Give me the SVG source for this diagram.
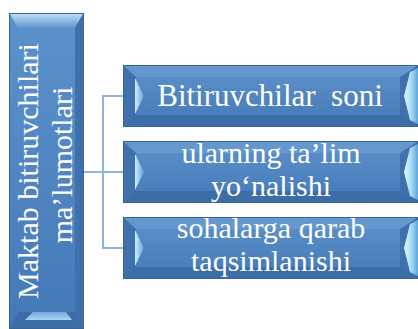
<svg xmlns="http://www.w3.org/2000/svg" width="418" height="329" viewBox="0 0 418 329">
<defs>
<linearGradient id="body" x1="0" y1="0" x2="0" y2="1">
<stop offset="0" stop-color="#5C92CB"/>
<stop offset="1" stop-color="#4479B8"/>
</linearGradient>
<linearGradient id="tri" x1="0" y1="0" x2="1" y2="0">
<stop offset="0" stop-color="#CFF0FC"/>
<stop offset="1" stop-color="#5E9FD8"/>
</linearGradient>
<linearGradient id="rlight" x1="0" y1="0" x2="1" y2="0">
<stop offset="0" stop-color="#E6F8FF"/>
<stop offset="0.5" stop-color="#A6DDF6"/>
<stop offset="1" stop-color="#5FA5DC"/>
</linearGradient>
<linearGradient id="topl" x1="0" y1="0" x2="0" y2="1">
<stop offset="0" stop-color="#B9DDF5"/>
<stop offset="1" stop-color="#5F95CD"/>
</linearGradient>
<linearGradient id="botl" x1="0" y1="0" x2="0" y2="1">
<stop offset="0" stop-color="#6FA9DE"/>
<stop offset="1" stop-color="#A8D4F3"/>
</linearGradient>
</defs>
<style>
.body{fill:url(#body);stroke:#3A6696;stroke-width:1}
.top{fill:#6598CE}
.bot{fill:#3C6DA8}
.side{fill:#3F71AC}
.tri{fill:url(#tri)}
.rl{fill:url(#rlight)}
.conn{fill:none;stroke:#8DB4E2;stroke-width:2}
.t{font-family:"Liberation Serif","Times New Roman",serif;fill:#FFFFFF;text-anchor:middle}
</style>
<g id="connectors">
<path class="conn" d="M84 172 H103"/>
<path class="conn" d="M123 96 H103 V248 H123"/>
<path class="conn" d="M103 172 H123"/>
</g>
<g id="root">
<rect class="body" x="9.5" y="13.5" width="74" height="315"/>
<polygon fill="url(#topl)" points="10,14 83,14 75,28 18,28"/>
<polygon class="side" points="83,14 75,28 75,312 83,328"/>
<polygon class="bot" points="10,328 83,328 75,312 18,312"/>
<polygon fill="url(#botl)" points="25,320 72,320 66,312 33,312"/>
<text class="t" font-size="30" transform="rotate(-90)"><tspan x="-171" y="38">Maktab bitiruvchilari</tspan><tspan x="-165" y="72">ma’lumotlari</tspan></text>
</g>
<g id="n1">
<rect class="body" x="123.5" y="65.5" width="294" height="61"/>
<polygon class="top" points="124,66 417,66 403,77 136,77"/>
<polygon class="bot" points="124,126 417,126 403,115 136,115"/>
<polygon class="side" points="124,66 136,77 136,115 124,126"/>
<polygon class="tri" points="135,78 144,96 135,114"/>
<polygon class="side" points="417,66 400,77 400,115 417,126"/>
<polygon class="rl" points="418,68 410,72 404,96 410,120 418,124"/>
<text class="t" font-size="31" x="270" y="106" xml:space="preserve">Bitiruvchilar  soni</text>
</g>
<g id="n2">
<rect class="body" x="123.5" y="141.5" width="294" height="61"/>
<polygon class="top" points="124,142 417,142 403,153 136,153"/>
<polygon class="bot" points="124,202 417,202 403,191 136,191"/>
<polygon class="side" points="124,142 136,153 136,191 124,202"/>
<polygon class="tri" points="135,154 144,172 135,190"/>
<polygon class="side" points="417,142 400,153 400,191 417,202"/>
<polygon class="rl" points="418,144 410,148 404,172 410,196 418,200"/>
<text class="t" font-size="30"><tspan x="271" y="163">ularning ta’lim</tspan><tspan x="271" y="196">yo‘nalishi</tspan></text>
</g>
<g id="n3">
<rect class="body" x="123.5" y="217.5" width="294" height="61"/>
<polygon class="top" points="124,218 417,218 403,229 136,229"/>
<polygon class="bot" points="124,278 417,278 403,267 136,267"/>
<polygon class="side" points="124,218 136,229 136,267 124,278"/>
<polygon class="tri" points="135,230 144,248 135,266"/>
<polygon class="side" points="417,218 400,229 400,267 417,278"/>
<polygon class="rl" points="418,220 410,224 404,248 410,272 418,276"/>
<text class="t" font-size="30"><tspan x="271" y="238">sohalarga qarab</tspan><tspan x="271" y="271">taqsimlanishi</tspan></text>
</g>
</svg>
